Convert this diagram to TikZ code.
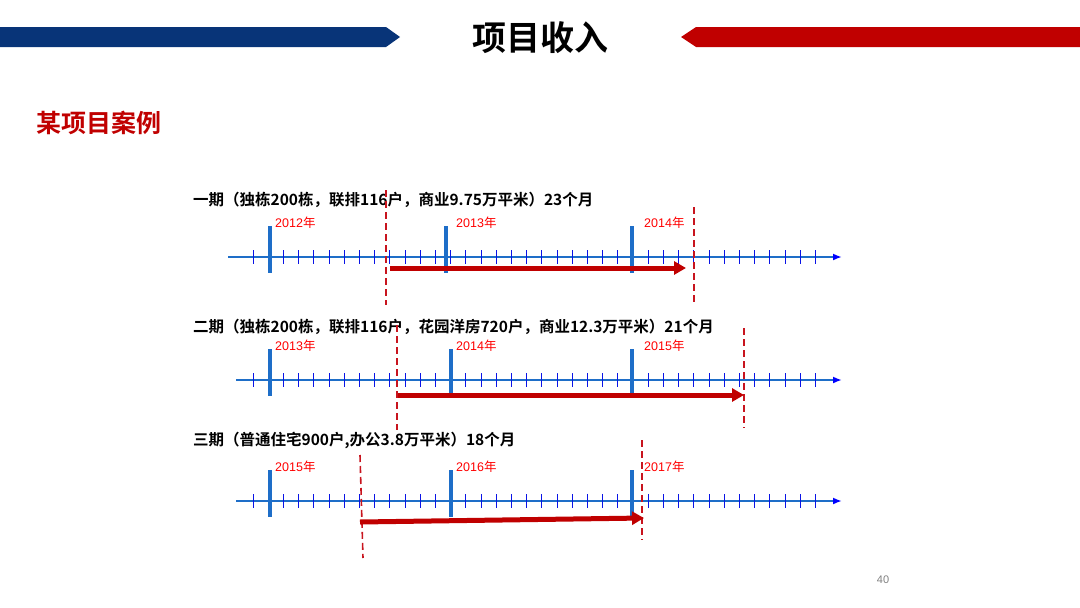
\documentclass[tikz,border=0pt]{standalone}
\usepackage{fontspec}
\setmainfont{Noto Sans CJK SC}
\newfontfamily\cjkb{Noto Sans CJK SC Bold}
\newfontfamily\cjkr{Noto Sans CJK SC}
\newfontfamily\lat{Liberation Sans}
\usetikzlibrary{arrows.meta}
\definecolor{hblue}{RGB}{8,52,120}
\definecolor{hred}{RGB}{192,0,0}
\definecolor{axb}{RGB}{30,110,200}
\definecolor{tkb}{RGB}{10,20,230}
\definecolor{drd}{RGB}{200,20,30}
\tikzset{
 axis/.style={draw=axb,line width=2.4pt,-{Latex[length=9pt,width=7pt,color=blue]}},
 minor/.style={draw=tkb,line width=1pt},
 major/.style={draw=axb,line width=3.2pt},
 cut/.style={draw=drd,line width=1.6pt,dash pattern=on 7pt off 4pt},
 span/.style={draw=hred,line width=5pt,-{Triangle[length=12pt,width=13pt]}},
 yr/.style={anchor=west,text=red,font=\lat\fontsize{12.5}{12.5}\selectfont,inner sep=0pt},
 ttl/.style={anchor=west,font=\cjkb\fontsize{15.5}{15.5}\selectfont,inner sep=0pt}
}
\begin{document}
\begin{tikzpicture}[x=1pt,y=-1pt]
\useasboundingbox (0,0) rectangle (1080,608);
% header
\fill[hblue] (0,27) -- (386,27) -- (400,37) -- (386,47) -- (0,47) -- cycle;
\fill[hred] (1080,27) -- (696,27) -- (681,37) -- (696,47) -- (1080,47) -- cycle;
\node[font=\cjkb\fontsize{34}{34}\selectfont,inner sep=0pt] (title) at (540,38) {项目收入};
\node[anchor=west,text=hred,font=\cjkb\fontsize{25}{25}\selectfont,inner sep=0pt] (case) at (36,123) {某项目案例};
\node[text=gray,font=\lat\fontsize{11}{11}\selectfont] (pg) at (883,580) {40};
% timelines
\foreach \yy/\xs/\ya/\yb/\yc/\mb [count=\i] in {257/228/2012/2013/2014/446, 380/236/2013/2014/2015/451, 501/236/2015/2016/2017/451}{
  \coordinate (as\i) at (\xs,\yy);
  \coordinate (ae\i) at (842,\yy);
  \draw[axis] (as\i) -- (ae\i);
  \foreach \k in {0,...,37}{
    \draw[minor] ({253+\k*15.2},\yy-7) -- ({253+\k*15.2},\yy+7);
  }
  \draw[major] (270,\yy-31) -- (270,\yy+16);
  \draw[major] (\mb,\yy-31) -- (\mb,\yy+16);
  \draw[major] (632,\yy-31) -- (632,\yy+16);
  \node[yr] (ya\i) at (275,\yy-34) {\ya{\cjkr 年}};
  \node[yr] (yb\i) at (456,\yy-34) {\yb{\cjkr 年}};
  \node[yr] (yc\i) at (644,\yy-34) {\yc{\cjkr 年}};
}
\node[ttl] (t1) at (193,200) {一期（独栋200栋，联排116户，商业9.75万平米）23个月};
\node[ttl] (t2) at (193,327) {二期（独栋200栋，联排116户，花园洋房720户，商业12.3万平米）21个月};
\node[ttl] (t3) at (193,440) {三期（普通住宅900户,办公3.8万平米）18个月};
% cut lines
\coordinate (c1a) at (386,190); \coordinate (c1b) at (386,305);
\coordinate (c1c) at (694,207); \coordinate (c1d) at (694,305);
\coordinate (c2a) at (397,325); \coordinate (c2b) at (397,430);
\coordinate (c2c) at (744,328); \coordinate (c2d) at (744,428);
\coordinate (c3a) at (360,455); \coordinate (c3b) at (363,558);
\coordinate (c3c) at (642,440); \coordinate (c3d) at (642,540);
\foreach \i in {1,2,3}{\draw[cut] (c\i a) -- (c\i b); \draw[cut] (c\i c) -- (c\i d);}
% spans
\coordinate (s1a) at (390,268); \coordinate (s1b) at (686,268);
\coordinate (s2a) at (398,395); \coordinate (s2b) at (744,395);
\coordinate (s3a) at (360,522); \coordinate (s3b) at (644,518);
\foreach \i in {1,2,3}{\draw[span] (s\i a) -- (s\i b);}
\end{tikzpicture}
\end{document}
